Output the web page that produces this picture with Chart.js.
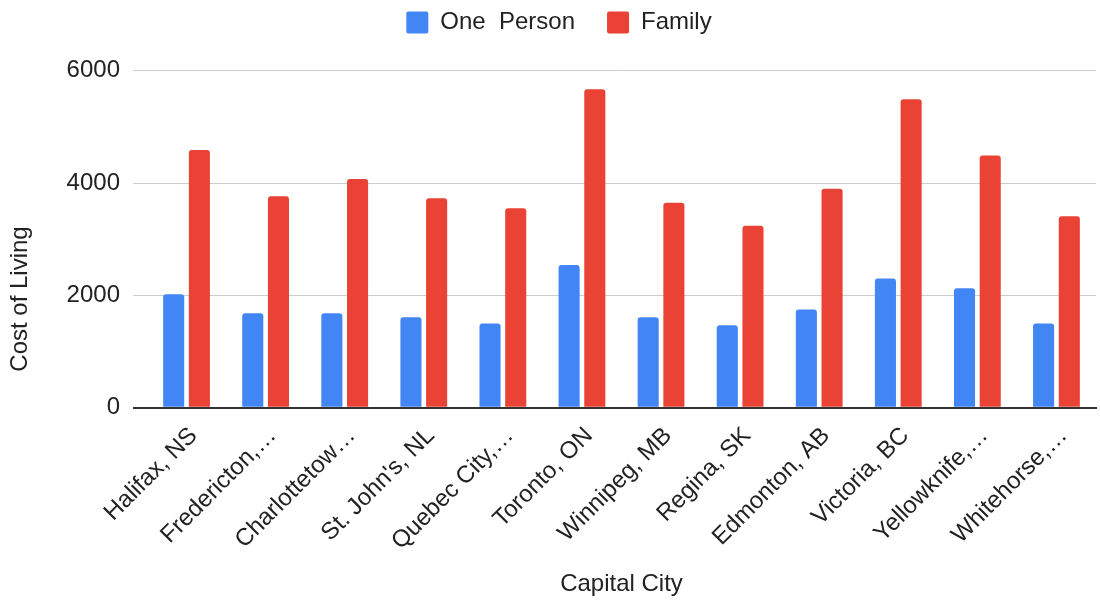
<!DOCTYPE html>
<html><head><meta charset="utf-8">
<script src="https://cdn.jsdelivr.net/npm/chart.js@4.4.0/dist/chart.umd.min.js"></script>
<style>html,body{margin:0;padding:0;background:#fff;} #wrap{width:1100px;height:600px;position:relative;}</style>
</head><body><div id="wrap"><canvas id="c" width="1100" height="600"></canvas></div>
<script>
const categories = ["Halifax, NS","Fredericton,…","Charlottetow…","St. John's, NL","Quebec City,…","Toronto, ON","Winnipeg, MB","Regina, SK","Edmonton, AB","Victoria, BC","Yellowknife,…","Whitehorse,…"];
const onePerson = [2020,1680,1680,1610,1500,2540,1610,1470,1750,2300,2125,1500];
const family = [4590,3765,4070,3730,3550,5670,3650,3240,3900,5490,4490,3410];
const yTicks = [0,2000,4000,6000];
const seriesNames = ["One  Person","Family"];
const xTitle = "Capital City";
const yTitle = "Cost of Living";

Chart.defaults.font.family = '"Liberation Sans", Arial, sans-serif';
Chart.defaults.color = '#222';

const LEGEND_H = 92.2;
const legendFitPlugin = {
  id: 'legendFit',
  beforeInit(chart) {
    const lg = chart.legend;
    if (!lg) return;
    const orig = lg.fit;
    lg.fit = function () { orig.call(this); this.height = LEGEND_H; };
  }
};
const yTitlePlugin = {
  id: 'yTitle',
  afterDraw(chart) {
    const ctx = chart.ctx;
    ctx.save();
    ctx.translate(20, 299);
    ctx.rotate(-Math.PI / 2);
    ctx.font = '24px "Liberation Sans", Arial, sans-serif';
    ctx.fillStyle = '#222';
    ctx.textAlign = 'center';
    ctx.textBaseline = 'middle';
    ctx.fillText(yTitle, 0, 0);
    ctx.restore();
  }
};

new Chart(document.getElementById('c'), {
  type: 'bar',
  data: {
    labels: categories,
    datasets: [
      { label: seriesNames[0], data: onePerson, backgroundColor: '#4285F4', borderRadius: 3, categoryPercentage: 0.65, barPercentage: 0.82 },
      { label: seriesNames[1], data: family, backgroundColor: '#EA4335', borderRadius: 3, categoryPercentage: 0.65, barPercentage: 0.82 }
    ]
  },
  options: {
    responsive: false,
    animation: false,
    devicePixelRatio: 1,
    layout: { padding: { top: -21.5, right: 4, left: 22, bottom: 0 } },
    plugins: {
      legend: {
        position: 'top',
        labels: { boxWidth: 22, boxHeight: 22, padding: 32, font: { size: 24 }, color: '#222', useBorderRadius: true, borderRadius: 2 }
      },
      tooltip: { enabled: false }
    },
    scales: {
      x: {
        z: 1,
        grid: { display: false, drawTicks: false },
        border: { display: true, color: '#333', width: 2 },
        ticks: { color: '#222', font: { size: 24 }, minRotation: 45, maxRotation: 45, autoSkip: false, padding: 14, labelOffset: 7 },
        title: { display: true, text: xTitle, color: '#222', font: { size: 24 }, padding: { top: 0, bottom: 1 } },
        afterFit(s) { s.height = 192.3; }
      },
      y: {
        min: 0, max: 6000,
        afterBuildTicks(s) { s.ticks = yTicks.map(v => ({ value: v })); },
        grid: {
          color: ctx => (ctx.tick && ctx.tick.value === 0) ? '#333' : '#ccc',
          lineWidth: ctx => (ctx.tick && ctx.tick.value === 0) ? 2 : 1,
          drawTicks: true, tickLength: 14
        },
        border: { display: false },
        ticks: { color: '#222', font: { size: 24 }, padding: 13, callback: v => String(v) },
        afterFit(s) { s.width = 125; }
      }
    }
  },
  plugins: [legendFitPlugin, yTitlePlugin]
});
</script>
</body></html>
